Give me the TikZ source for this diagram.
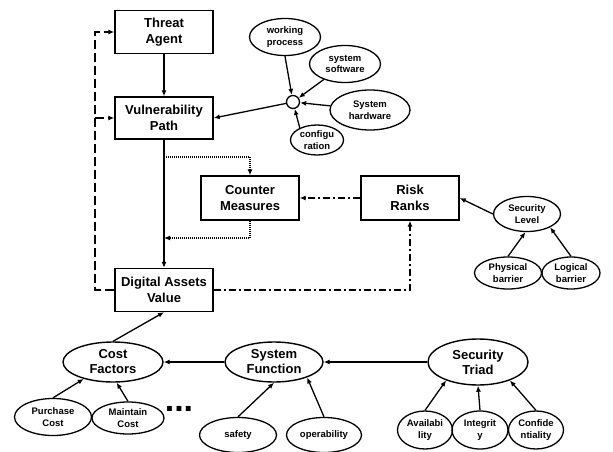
\documentclass[tikz,border=0pt]{standalone}
\usepackage{fontspec}
\setmainfont{Liberation Sans}
\usetikzlibrary{arrows.meta, shapes.geometric}
\tikzstyle{block} = [draw, rectangle, line width=1.4pt, minimum width=98pt,
   minimum height=43pt, inner sep=0pt, align=center,
   font=\fontsize{13}{15.5}\selectfont\bfseries]
\tikzstyle{bigEll} = [draw, ellipse, line width=1.4pt, inner sep=0pt,
   minimum width=100pt, minimum height=40pt, align=center,
   font=\fontsize{13}{15}\selectfont\bfseries]
\tikzstyle{smallEll} = [draw, ellipse, line width=1.3pt, inner sep=0pt,
   align=center, font=\fontsize{9.5}{11.5}\selectfont\bfseries]
\tikzstyle{link} = [line width=1.3pt, -{Latex[length=6pt,width=5pt]}]
\tikzstyle{dashLink} = [link, dash pattern=on 9pt off 4pt]
\tikzstyle{dotLink} = [link, line width=1.2pt, dash pattern=on 1pt off 1pt]
\tikzstyle{dashDotLink} = [link, dash pattern=on 7pt off 3pt on 2pt off 3pt]

\begin{document}
\begin{tikzpicture}[x=1pt, y=-1pt]
  \useasboundingbox (0,0) rectangle (613,452);

  % boxes
  \node[block] (ta) at (164,32) {Threat\\Agent};
  \node[block, minimum height=42pt] (vp) at (164,118) {Vulnerability\\Path};
  \node[block, minimum height=44pt] (cm) at (250,198) {Counter\\Measures};
  \node[block, minimum height=44pt] (rr) at (410,198) {Risk\\Ranks};
  \node[block] (dav) at (164,290) {Digital Assets\\Value};

  % system parts meeting in a small circle
  \node[draw, circle, line width=1.3pt, minimum size=13pt, inner sep=0pt] (junc) at (293,102) {};
  \node[smallEll, minimum width=71pt, minimum height=37pt] (wp) at (285,37) {working\\process};
  \node[smallEll, minimum width=71pt, minimum height=37pt] (ss) at (345,64) {system\\software};
  \node[smallEll, minimum width=80pt, minimum height=40pt] (sh) at (370,110) {System\\hardware};
  \node[smallEll, minimum width=53pt, minimum height=30pt] (cfg) at (317,140) {configu\\ration};

  % security level
  \node[smallEll, minimum width=67pt, minimum height=35pt] (sl) at (527,214) {Security\\Level};
  \node[smallEll, minimum width=67pt, minimum height=32pt] (pb) at (508,273) {Physical\\barrier};
  \node[smallEll, minimum width=58pt, minimum height=32pt] (lb) at (571,273) {Logical\\barrier};

  % bottom row
  \node[bigEll] (cf) at (113,362) {Cost\\Factors};
  \node[bigEll, minimum width=98pt] (sf) at (274,362) {System\\Function};
  \node[bigEll, minimum height=46pt] (st) at (478,362) {Security\\Triad};
  \node[smallEll, minimum width=77pt, minimum height=37pt] (pc) at (53,417) {Purchase\\Cost};
  \node[smallEll, minimum width=72pt, minimum height=32pt] (mc) at (128,418) {Maintain\\Cost};
  \node[inner sep=0pt, font=\fontsize{34}{34}\selectfont\bfseries] (more) at (179,409) {...};
  \node[smallEll, minimum width=77pt, minimum height=35pt] (sa) at (238,435) {safety};
  \node[smallEll, minimum width=75pt, minimum height=35pt] (op) at (324,435) {operability};
  \node[smallEll, minimum width=55pt, minimum height=38pt] (av) at (425,430) {Availabi\\lity};
  \node[smallEll, minimum width=56pt, minimum height=38pt] (ig) at (480,430) {Integrit\\y};
  \node[smallEll, minimum width=55pt, minimum height=38pt] (cn) at (536,430) {Confide\\ntiality};

  \coordinate (lbot) at (95,290);
  \coordinate (lmid) at (95,118);
  \coordinate (dtop) at (164,157);
  \coordinate (dbot) at (164,238);

  % solid arrows
  \draw[link] (ta) -- (vp);
  \draw[link] (vp) -- (dav);
  \draw[link] (junc) -- (vp.east);
  \draw[link] (wp.south) -- (junc);
  \draw[link] (ss) -- (junc);
  \draw[link] (sh) -- (junc);
  \draw[link] (cfg.145) -- (junc);
  \draw[link] (sl.west) -- (rr.east);
  \draw[link] (pb.north) -- (sl.265);
  \draw[link] (lb.north) -- (sl.-30);
  \draw[link] (cf.north) -- (dav.south);
  \draw[link] (sf) -- (cf);
  \draw[link] (st) -- (sf);
  \draw[link] (pc.north) -- (cf.210);
  \draw[link] (mc.north) -- (cf.280);
  \draw[link] (sa.north) -- (sf.south);
  \draw[link] (op.north) -- (sf.-25);
  \draw[link] (av.north) -- (st.210);
  \draw[link] (ig.north) -- (st.south);
  \draw[link] (cn.north) -- (st.-30);

  % dashed feedback
  \draw[dashLink] (dav.west) -- (lbot) |- (ta.west);
  \draw[dashLink] (lmid) -- (vp.west);

  % dotted loop through counter measures
  \draw[dotLink] (dtop) -| (cm.north);
  \draw[dotLink] (cm.south) |- (dbot);

  % dash-dot links with risk ranks
  \draw[dashDotLink] (rr.west) -- (cm.east);
  \draw[dashDotLink] (dav.east) -| (rr.south);
\end{tikzpicture}
\end{document}
